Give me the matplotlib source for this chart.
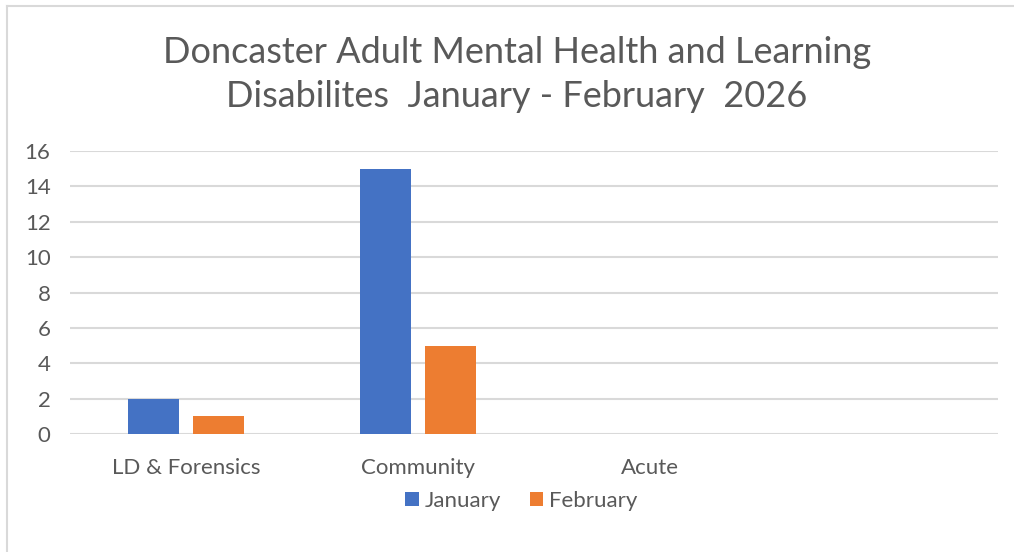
import matplotlib.pyplot as plt
import numpy as np
from matplotlib.lines import Line2D

categories = ['LD & Forensics', 'Community', 'Acute', '']
january = [2, 15, 0, 0]
february = [1, 5, 0, 0]
yticks = [0, 2, 4, 6, 8, 10, 12, 14, 16]

title = 'Doncaster Adult Mental Health and Learning\nDisabilites  January - February  2026'

plt.rcParams['font.family'] = ['Lato', 'DejaVu Sans']
text_color = '#595959'
blue = '#4472C4'
orange = '#ED7D31'

fig = plt.figure(figsize=(10.14, 5.52), dpi=100)
ax = fig.add_axes([0.069, 0.2138, 0.915, 0.5126])

x = np.arange(len(categories))
width = 0.22
offset = 0.14
ax.bar(x - offset, january, width, color=blue, label='January', zorder=3)
ax.bar(x + offset, february, width, color=orange, label='February', zorder=3)

ax.set_xlim(-0.5, len(categories) - 0.5)
ax.set_ylim(0, 16)
ax.set_yticks(yticks)
ax.set_xticks(x)
ax.set_xticklabels(categories)
ax.tick_params(axis='both', length=0, labelsize=16, colors=text_color)
ax.tick_params(axis='y', pad=14)
ax.tick_params(axis='x', pad=17)
ax.grid(axis='y', color='#d9d9d9', linewidth=1.5, zorder=0)
for spine in ax.spines.values():
    spine.set_visible(False)

fig.text(0.51, 0.865, title, ha='center', va='center', fontsize=26,
         color=text_color, linespacing=1.4)

fig.legend(loc='center', bbox_to_anchor=(0.514, 0.093), ncol=2, frameon=False,
           fontsize=16, labelcolor=text_color, handlelength=0.6, handleheight=0.6,
           handletextpad=0.25, columnspacing=1.3)

# chart frame
fig.add_artist(Line2D([0.007, 1.0], [0.989, 0.989], color='#d9d9d9', linewidth=1.5))
fig.add_artist(Line2D([0.007, 0.007], [0.0, 0.989], color='#d9d9d9', linewidth=1.5))

fig.savefig('out.png', dpi=100, facecolor='white')
